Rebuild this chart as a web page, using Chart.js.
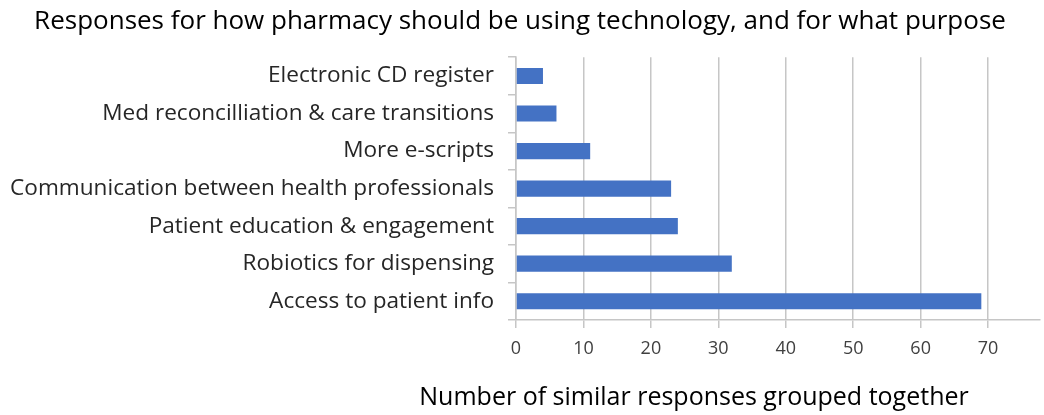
<!DOCTYPE html>
<html>
<head>
<meta charset="utf-8">
<script src="https://cdn.jsdelivr.net/npm/chart.js@4"></script>
<style>
  html, body { margin: 0; padding: 0; background: #fff; }
  #wrap { width: 1044px; height: 415px; }
</style>
</head>
<body>
<div id="wrap"><canvas id="c"></canvas></div>
<script>
const categories = [
    'Electronic CD register',
    'Med reconcilliation & care transitions',
    'More e-scripts',
    'Communication between health professionals',
    'Patient education & engagement',
    'Robiotics for dispensing',
    'Access to patient info'
];
const responses = [4, 6, 11, 23, 24, 32, 69];
const xTicks = [0, 10, 20, 30, 40, 50, 60, 70];
const xAxisTitle = 'Number of similar responses grouped together';

const gridGray = '#c6c6c6';
const fontFamily = '"Open Sans", Lato, sans-serif';

// x axis title sits left of the plot-area centre in the original, so draw it ourselves
const axisTitlePlugin = {
    id: 'axisTitle',
    afterDraw: function(chart) {
        var c = chart.ctx, area = chart.chartArea;
        c.save();
        c.font = '25px ' + fontFamily;
        c.fillStyle = '#000';
        c.textAlign = 'center';
        c.textBaseline = 'middle';
        c.fillText(xAxisTitle, (area.left + area.right) / 2 - 84, chart.height - 17);
        c.restore();
    }
};

var ctx = document.getElementById('c');

new Chart(ctx, {
    type: 'bar',
    data: {
        labels: categories,
        datasets: [{
            data: responses,
            backgroundColor: '#4472C4',
            borderWidth: 0,
            barPercentage: 0.43,
            categoryPercentage: 1
        }]
    },
    options: {
        indexAxis: 'y',
        responsive: true,
        maintainAspectRatio: false,
        animation: false,
        layout: { padding: { left: 0, right: 4, top: 0, bottom: 0 } },
        plugins: {
            legend: { display: false },
            tooltip: { enabled: false },
            title: {
                display: true,
                text: 'Responses for how pharmacy should be using technology, and for what purpose',
                color: '#000',
                font: { family: fontFamily, size: 26, weight: 'normal' },
                padding: { top: 6, bottom: 20 }
            }
        },
        scales: {
            x: {
                min: 0,
                max: 77.7,
                afterBuildTicks: function(scale) {
                    scale.ticks = xTicks.map(function(v) { return { value: v }; });
                },
                ticks: {
                    color: '#404040',
                    font: { family: fontFamily, size: 18 },
                    padding: 10,
                    maxRotation: 0
                },
                grid: {
                    color: gridGray,
                    lineWidth: 1.5,
                    tickLength: 8
                },
                border: { color: gridGray, width: 1.5 },
                afterFit: function(scale) { scale.height = 95; }
            },
            y: {
                ticks: {
                    color: '#262626',
                    font: { family: fontFamily, size: 22.6 },
                    padding: 14
                },
                grid: {
                    offset: true,
                    drawOnChartArea: false,
                    color: gridGray,
                    lineWidth: 1.5,
                    tickLength: 8
                },
                border: { color: gridGray, width: 1.5 },
                afterFit: function(scale) { scale.width = 516; }
            }
        }
    },
    plugins: [axisTitlePlugin]
});
</script>
</body>
</html>
